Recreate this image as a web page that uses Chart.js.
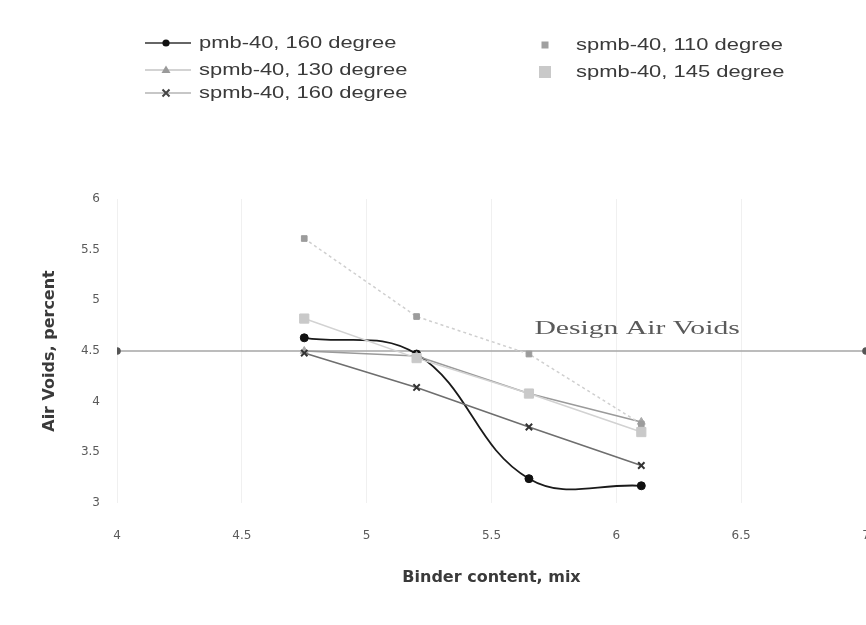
<!DOCTYPE html>
<html>
<head>
<meta charset="utf-8">
<script src="https://cdn.jsdelivr.net/npm/chart.js@4.4.1/dist/chart.umd.min.js"></script>
<style>
  html, body { margin: 0; padding: 0; background: #fff; overflow: hidden; width: 866px; height: 625px; }
  #wrap { position: absolute; left: 0; top: 0; width: 866px; height: 625px; overflow: hidden; }
  #c { position: absolute; left: 0; top: 0; width: 866px; height: 625px; }
  #legend { position: absolute; left: 0; top: 0; width: 866px; height: 110px; pointer-events: none; }
  .item { position: absolute; height: 22px; display: flex; align-items: center; }
  .item svg { display: block; }
  .item span { font-family: "Liberation Sans", Arial, sans-serif; font-size: 17px; color: #3a3a3a;
               display: inline-block; transform: scaleX(1.29); transform-origin: left center; white-space: nowrap; }
</style>
</head>
<body>
<div id="wrap"><canvas id="c" width="866" height="625"></canvas></div>
<div id="legend"></div>
<script>
// ---- data ----
const binderContent = [4.75, 5.2, 5.65, 6.1];
const pmb40_160  = [4.63, 4.47, 3.24, 3.17];
const spmb40_130 = [4.50, 4.45, 4.08, 3.80];
const spmb40_160 = [4.48, 4.14, 3.75, 3.37];
const spmb40_110 = [5.61, 4.84, 4.47, 3.78];
const spmb40_145 = [4.82, 4.43, 4.08, 3.70];
const designX = [4, 7];
const designY = [4.5, 4.5];
const designLabel = "Design Air Voids";
const designLabelPos = [5.672, 4.715];
const seriesNames = ["pmb-40, 160 degree", "spmb-40, 130 degree", "spmb-40, 160 degree",
                     "spmb-40, 110 degree", "spmb-40, 145 degree"];
const xTickValues = [4, 4.5, 5, 5.5, 6, 6.5, 7];
const xTickLabels = ["4", "4.5", "5", "5.5", "6", "6.5", "7"];
const yTickValues = [3, 3.5, 4, 4.5, 5, 5.5, 6];
const yTickLabels = ["3", "3.5", "4", "4.5", "5", "5.5", "6"];
const xTitle = "Binder content, mix";
const yTitle = "Air Voids, percent";
const plotRightEdge = 866;

const pts = (xs, ys) => xs.map((x, i) => ({ x: x, y: ys[i] }));

const styles = [
  { border: '#1a1a1a', bg: '#111', pointStyle: 'circle', radius: 4, width: 1.8, tension: 0.4, dash: [] },
  { border: '#9a9a9a', bg: '#a8a8a8', pointStyle: 'triangle', radius: 4.5, width: 1.5, tension: 0, dash: [] },
  { border: '#6e6e6e', bg: '#444', pointStyle: 'crossRot', radius: 4.5, width: 1.6, tension: 0, dash: [] },
  { border: '#cfcfcf', bg: '#9c9c9c', pointStyle: 'rect', radius: 4, width: 1.5, tension: 0, dash: [3, 3] },
  { border: '#d2d2d2', bg: '#c9c9c9', pointStyle: 'rect', radius: 6.5, width: 1.5, tension: 0, dash: [] }
];
const seriesValues = [pmb40_160, spmb40_130, spmb40_160, spmb40_110, spmb40_145];

const datasets = [{
  label: 'design',
  data: pts(designX, designY),
  borderColor: '#a6a6a6',
  borderWidth: 1.6,
  pointStyle: 'circle',
  pointRadius: 3,
  pointBackgroundColor: '#555',
  pointBorderColor: '#555',
  order: 10
}];
seriesValues.forEach((vals, i) => {
  const s = styles[i];
  datasets.push({
    label: seriesNames[i],
    data: pts(binderContent, vals),
    borderColor: s.border,
    borderWidth: s.width,
    borderDash: s.dash,
    tension: s.tension,
    pointStyle: s.pointStyle,
    pointRadius: s.radius,
    pointBackgroundColor: s.bg,
    pointBorderColor: s.pointStyle === 'crossRot' ? '#333' : s.bg,
    pointBorderWidth: s.pointStyle === 'crossRot' ? 2 : 1,
    order: 5 - i
  });
});

// stretch the x scale so that its last tick sits on the right edge of the page
const edgePlugin = {
  id: 'rightEdge',
  afterLayout(chart) {
    const x = chart.scales.x;
    x.right = plotRightEdge;
    x.width = x.right - x.left;
    x.configure();
    chart.chartArea.right = plotRightEdge;
    chart.chartArea.width = chart.chartArea.right - chart.chartArea.left;
  }
};

const labelPlugin = {
  id: 'designLabel',
  afterDatasetsDraw(chart) {
    const { ctx, scales: { x, y } } = chart;
    const px = x.getPixelForValue(designLabelPos[0]);
    const py = y.getPixelForValue(designLabelPos[1]);
    ctx.save();
    ctx.font = '19px "Liberation Serif", "Times New Roman", serif';
    ctx.fillStyle = '#5a5a5a';
    ctx.textBaseline = 'middle';
    ctx.textAlign = 'left';
    ctx.translate(px, py);
    ctx.scale(1.56, 1);
    ctx.fillText(designLabel, 0, 0);
    ctx.restore();
  }
};

new Chart(document.getElementById('c'), {
  type: 'line',
  data: { datasets },
  plugins: [edgePlugin, labelPlugin],
  options: {
    responsive: false,
    animation: false,
    devicePixelRatio: 1,
    layout: { padding: { top: 199, right: 0, left: 0, bottom: 0 } },
    plugins: { legend: { display: false }, tooltip: { enabled: false } },
    scales: {
      x: {
        type: 'linear',
        min: 4, max: 7,
        afterBuildTicks: s => { s.ticks = xTickValues.map(v => ({ value: v })); },
        afterFit: s => { s.height = 122; },
        ticks: {
          callback: (v) => xTickLabels[xTickValues.indexOf(v)],
          padding: 26,
          color: '#5a5a5a',
          font: { family: '"DejaVu Sans", sans-serif', size: 12 },
          maxRotation: 0
        },
        grid: { display: true, drawTicks: false, color: 'rgba(0,0,0,0.06)', lineWidth: 1 },
        border: { display: false },
        title: {
          display: true, text: xTitle, color: '#3a3a3a',
          font: { family: '"DejaVu Sans", sans-serif', size: 16, weight: 'bold' },
          padding: { top: 0, bottom: 38 }
        }
      },
      y: {
        type: 'linear',
        min: 3, max: 6,
        afterBuildTicks: s => { s.ticks = yTickValues.map(v => ({ value: v })); },
        afterFit: s => { s.width = 117; },
        ticks: {
          callback: (v) => yTickLabels[yTickValues.indexOf(v)],
          padding: 17,
          color: '#5a5a5a',
          font: { family: '"DejaVu Sans", sans-serif', size: 12 }
        },
        grid: { display: false, drawTicks: false },
        border: { display: false },
        title: {
          display: true, text: yTitle, color: '#3a3a3a',
          font: { family: '"DejaVu Sans", sans-serif', size: 16, weight: 'bold' },
          padding: { top: 40, bottom: 0 }
        }
      }
    }
  }
});

// ---- HTML legend (two columns as in the reference) ----
const legendSlots = [
  { left: 143, top: 32 }, { left: 143, top: 59 }, { left: 143, top: 82 },
  { left: 530, top: 34 }, { left: 530, top: 61 }
];
const markerSvg = [
  '<svg width="56" height="22"><line x1="2" y1="11" x2="48" y2="11" stroke="#333" stroke-width="1.5"/><circle cx="23" cy="11" r="3.6" fill="#111"/></svg>',
  '<svg width="56" height="22"><line x1="2" y1="11" x2="48" y2="11" stroke="#c4c4c4" stroke-width="1.5"/><polygon points="23,6.5 27.5,14 18.5,14" fill="#9a9a9a"/></svg>',
  '<svg width="56" height="22"><line x1="2" y1="11" x2="48" y2="11" stroke="#b4b4b4" stroke-width="1.5"/><path d="M19.5 7.5 L26.5 14.5 M26.5 7.5 L19.5 14.5" stroke="#444" stroke-width="2"/></svg>',
  '<svg width="46" height="22"><rect x="11.5" y="7.5" width="7" height="7" fill="#a0a0a0"/></svg>',
  '<svg width="46" height="22"><rect x="9" y="5" width="12" height="12" fill="#c9c9c9"/></svg>'
];
const legendEl = document.getElementById('legend');
seriesNames.forEach((name, i) => {
  const d = document.createElement('div');
  d.className = 'item';
  d.style.left = legendSlots[i].left + 'px';
  d.style.top = legendSlots[i].top + 'px';
  d.innerHTML = markerSvg[i] + '<span>' + name + '</span>';
  legendEl.appendChild(d);
});
</script>
</body>
</html>
